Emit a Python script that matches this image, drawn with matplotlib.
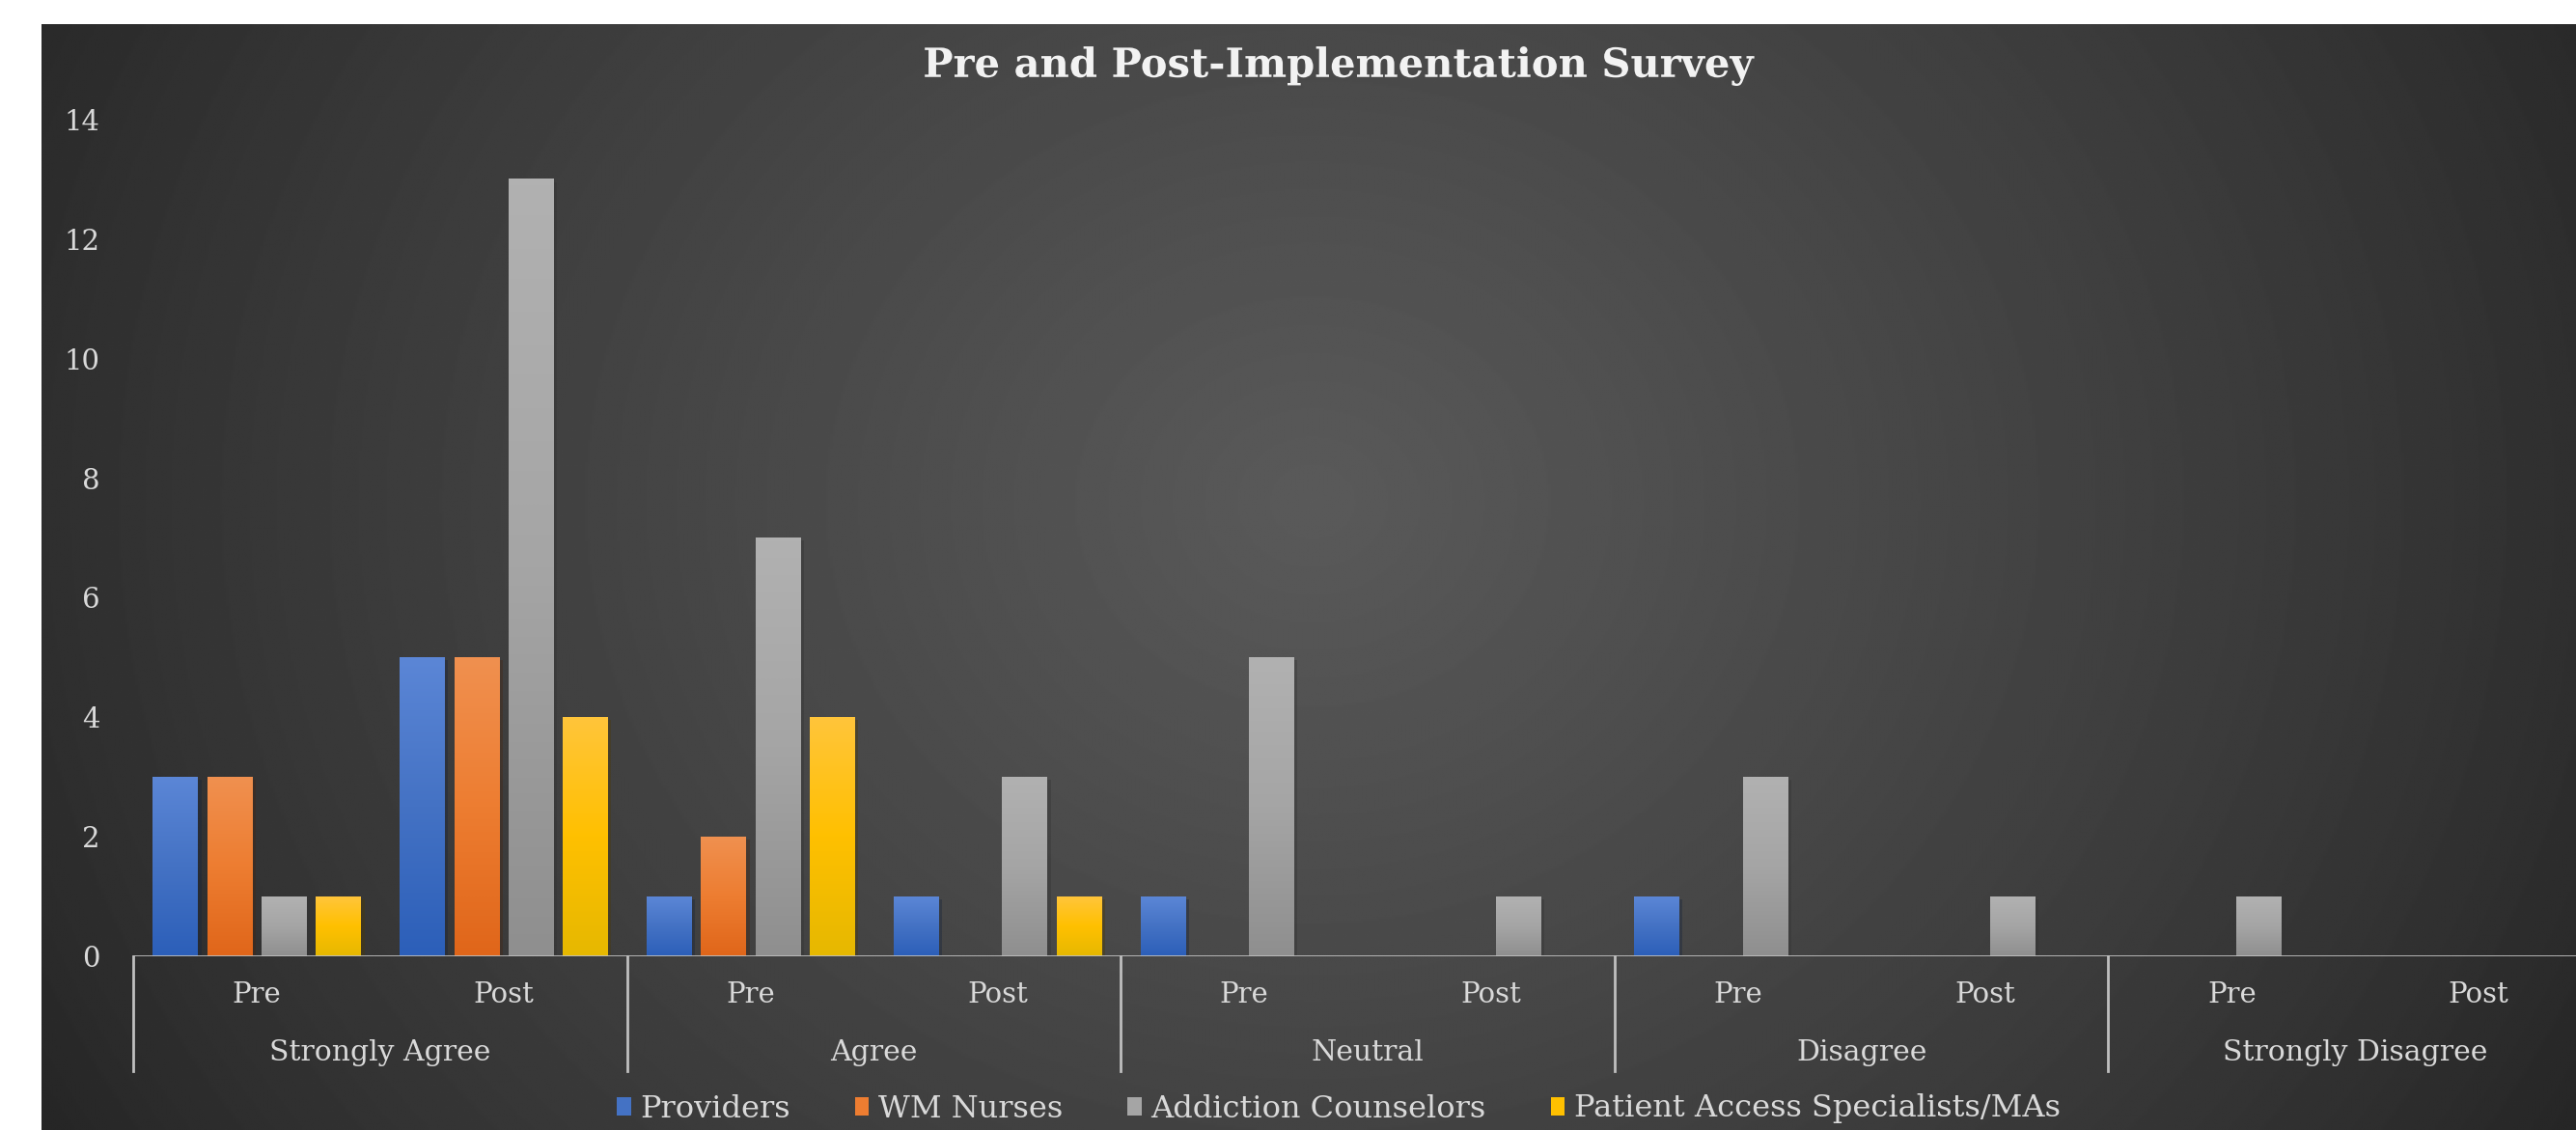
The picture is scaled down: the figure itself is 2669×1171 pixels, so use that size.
import numpy as np
import matplotlib.pyplot as plt
import matplotlib.patheffects as pe
from matplotlib.patches import Patch
from matplotlib.colors import LinearSegmentedColormap
import matplotlib.transforms as mtransforms

# data
groups = ["Strongly Agree", "Agree", "Neutral", "Disagree", "Strongly Disagree"]
phases = ["Pre", "Post"]
series = ["Providers", "WM Nurses", "Addiction Counselors", "Patient Access Specialists/MAs"]
# order: SA Pre, SA Post, A Pre, A Post, N Pre, N Post, D Pre, D Post, SD Pre, SD Post
providers = [3, 5, 1, 1, 1, 0, 1, 0, 0, 0]
wm_nurses = [3, 5, 2, 0, 0, 0, 0, 0, 0, 0]
counselors = [1, 13, 7, 3, 5, 1, 3, 1, 1, 0]
access = [1, 4, 4, 1, 0, 0, 0, 0, 0, 0]
values = [providers, wm_nurses, counselors, access]

# style
base = ["#4472C4", "#ED7D31", "#A5A5A5", "#FFC000"]
tops = ["#5b86d6", "#f0904f", "#b1b1b1", "#ffc53a"]
bottoms = ["#2c5fb9", "#e0661a", "#8f8f8f", "#e6b800"]
txt = "#d9d9d9"
serif = ["DejaVu Serif"]
fs = 21

W, H = 2669, 1171
fig = plt.figure(figsize=(W / 100, H / 100), dpi=100)
fig.patch.set_facecolor("white")

# radial background of the chart area
bg = fig.add_axes([43 / W, 0, 1 - 43 / W, 1 - 25 / H], zorder=0)
X, Y = np.meshgrid(np.linspace(43, W, 1200), np.linspace(25, H, 600))
d = np.sqrt(((X - 1360) / 1500) ** 2 + ((Y - 520) / 1300) ** 2)
v = (38 + 52 * np.clip(1 - d, 0, 1) ** 0.85) / 255
bg.imshow(v, cmap="gray", vmin=0, vmax=1, aspect="auto", extent=[0, 1, 0, 1],
          interpolation="bilinear")
bg.axis("off")

# main plot
x0, y0, ytop = 138, 991, 124
gw = 511.6
ax = fig.add_axes([x0 / W, (H - y0) / H, 5 * gw / W, (y0 - ytop) / H], zorder=1)
ax.set_facecolor("none")
n = len(groups) * len(phases)

step, bw = 0.22, 0.18
xs = np.arange(n) + 0.5
for j, vals in enumerate(values):
    bars = ax.bar(xs + (j - 1.5) * step, vals, width=bw, color=base[j], zorder=2,
                  path_effects=[pe.SimplePatchShadow(offset=(3, -2), alpha=0.35), pe.Normal()])
    cmap = LinearSegmentedColormap.from_list("g%d" % j, [bottoms[j], base[j], tops[j]])
    for b in bars:
        h = b.get_height()
        if h <= 0:
            continue
        ax.imshow(np.linspace(1, 0, 100).reshape(-1, 1), cmap=cmap, aspect="auto",
                  extent=[b.get_x(), b.get_x() + b.get_width(), 0, h], zorder=3,
                  interpolation="bilinear")
ax.set_xlim(0, n)
ax.set_ylim(0, 14)
ax.set_aspect("auto")

for s in ax.spines.values():
    s.set_visible(False)
ax.axhline(0, color="#bfbfbf", lw=2, zorder=4)

ax.set_yticks(range(0, 15, 2))
ax.tick_params(axis="y", length=0, pad=25, colors=txt, labelsize=fs)
ax.set_xticks(xs)
ax.set_xticklabels(phases * len(groups))
ax.tick_params(axis="x", length=0, pad=19, colors=txt, labelsize=fs)
for lab in ax.get_xticklabels() + ax.get_yticklabels():
    lab.set_family(serif)

trans = mtransforms.blended_transform_factory(ax.transData, ax.transAxes)
sep_y = -(1110 - y0) / (y0 - ytop)
for k in range(len(groups) + 1):
    ax.plot([2 * k, 2 * k], [0, sep_y], color="#bfbfbf", lw=2, transform=trans, clip_on=False)
for k, g in enumerate(groups):
    ax.text(2 * k + 1, -(1091 - y0) / (y0 - ytop), g, transform=trans, ha="center",
            va="center", color=txt, fontsize=fs + 0.5, family=serif)

fig.text(1386 / W, 1 - 68 / H, "Pre and Post-Implementation Survey", ha="center", va="center",
         color="#f2f2f2", fontsize=30, fontweight="bold", family=["DejaVu Serif"],
         path_effects=[pe.withSimplePatchShadow(offset=(2, -2), alpha=0.6)])

handles = [Patch(facecolor=c, edgecolor="none", label=s) for c, s in zip(base, series)]
leg = fig.legend(handles=handles, loc="center", bbox_to_anchor=(1387 / W, 1 - 1149 / H), ncol=4,
                 frameon=False, handlelength=0.45, handleheight=0.55, handletextpad=0.3,
                 columnspacing=2.1, prop={"family": serif, "size": 23})
for t in leg.get_texts():
    t.set_color(txt)

fig.savefig("out.png", dpi=100)
